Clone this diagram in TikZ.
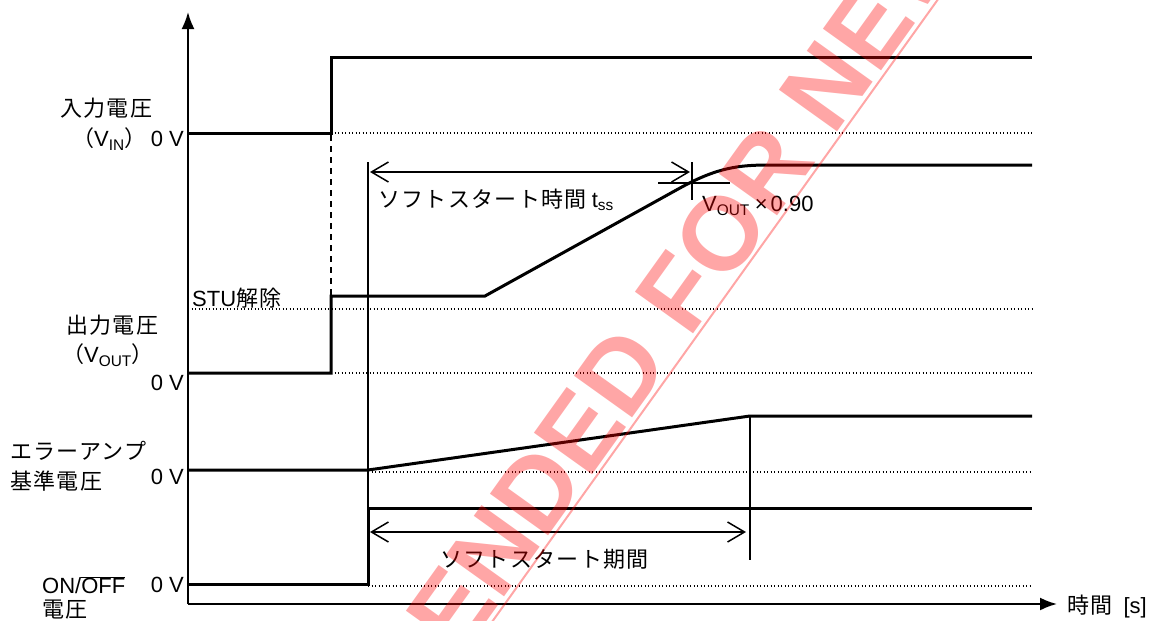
\documentclass[tikz,border=0pt]{standalone}
\usepackage{fontspec}
\setmainfont{Liberation Sans}
\newfontfamily\jp{Noto Sans CJK JP}[LetterSpace=6]
\usetikzlibrary{arrows.meta}
\tikzset{
  tx/.style={inner sep=0pt, font=\fontsize{22}{26}\selectfont},
  sig/.style={line width=3pt, line join=miter},
  axis/.style={line width=2pt, -{Latex[length=17pt,width=13pt]}},
  thinl/.style={line width=1.3pt},
  dotl/.style={line width=1.2pt, dash pattern=on 1.3pt off 2.2pt},
  dashl/.style={line width=1.3pt, dash pattern=on 6pt off 5pt},
  dim/.style={line width=1.5pt, {Straight Barb[length=17pt,width=20pt,line width=1.5pt]}-{Straight Barb[length=17pt,width=20pt,line width=1.5pt]}},
  wm/.style={inner sep=0pt, text=red, text opacity=0.35, font=\fontsize{104}{104}\selectfont\bfseries}
}
\begin{document}
\begin{tikzpicture}[x=1pt,y=-1pt]
\useasboundingbox (0,0) rectangle (1160,621);
% axes
\coordinate (O) at (188,604);
\coordinate (Ytop) at (188,12);
\coordinate (Xend) at (1057,604);
\draw[axis] (O) -- (Ytop);
\draw[axis] (O) -- (Xend);
\node[tx,anchor=west] (tlab) at (1067,607) {{\jp 時間}\hspace{11pt}[s]};
% dotted reference lines
\draw[dotl] (331,133) -- (1032,133);
\draw[dotl] (188,309) -- (1032,309);
\draw[dotl] (331,373) -- (1032,373);
\draw[dotl] (368,472) -- (1032,472);
\draw[dotl] (368,586) -- (1032,586);
% input voltage
\draw[sig] (188,133) -- (331,133) -- (331,57) -- (1032,57);
\draw[dashl] (331,135) -- (331,296);
% output voltage
\draw[sig] (188,373) -- (331,373) -- (331,296) -- (485,296) -- (680,188)
  .. controls (718,167) and (740,165) .. (770,165) -- (1032,165);
% error amp reference
\draw[sig] (188,470) -- (368,470) -- (750,416) -- (1032,416);
% ON/OFF
\draw[sig] (188,584) -- (368,584) -- (368,508) -- (1032,508);
% thin markers
\coordinate (m1t) at (368,162); \coordinate (m1b) at (368,508);
\draw[thinl] (m1t) -- (m1b);
\coordinate (m2t) at (692,162); \coordinate (m2b) at (692,200);
\draw[thinl] (m2t) -- (m2b);
\coordinate (h2l) at (658,183); \coordinate (h2r) at (730,183);
\draw[thinl] (h2l) -- (h2r);
\coordinate (m3t) at (750,416); \coordinate (m3b) at (750,560);
\draw[thinl] (m3t) -- (m3b);
% dimension arrows
\coordinate (a1l) at (370,172); \coordinate (a1r) at (690,172);
\draw[dim] (a1l) -- (a1r);
\coordinate (a2l) at (370,532); \coordinate (a2r) at (746,532);
\draw[dim] (a2l) -- (a2r);
% labels
\node[tx,anchor=west] (ltss) at (378,200) {{\jp ソフトスタート時間}\hspace{5pt}t\textsubscript{ss}};
\node[tx,anchor=west] (l90) at (702,206) {V\textsubscript{OUT}\hspace{5pt}×\hspace{3pt}0.90};
\node[tx,anchor=west] (lstu) at (192,298) {STU{\jp 解除}};
\node[tx,anchor=west] (lin) at (60,108) {\jp 入力電圧};
\node[tx,anchor=east] (lvin) at (184,139) {{\jp （}V\textsubscript{IN}{\jp ）}\hspace{4pt}0 V};
\node[tx,anchor=west] (lout) at (66,325) {\jp 出力電圧};
\node[tx,anchor=west] (lvout) at (62,355) {{\jp （}V\textsubscript{OUT}{\jp ）}};
\node[tx,anchor=east] (l0out) at (184,383) {0 V};
\node[tx,anchor=west] (lea) at (10,451) {\jp エラーアンプ};
\node[tx,anchor=west] (lref) at (10,481) {\jp 基準電圧};
\node[tx,anchor=east] (l0ea) at (184,477) {0 V};
\node[tx,anchor=west] (lon) at (42,585) {ON/$\overline{\mbox{OFF}}$};
\node[tx,anchor=east] (l0on) at (184,585) {0 V};
\node[tx,anchor=west] (lonv) at (42,610) {\jp 電圧};
\node[tx,anchor=west] (lssp) at (440,559) {\jp ソフトスタート期間};
% watermark
\begin{scope}
\clip (0,0) rectangle (1160,621);
\node[wm, rotate=54.4, anchor=base west] (wmk) at (40,1246) {NOT RECOMMENDED FOR NEW DESIGN};
\coordinate (wl1) at (464,661); \coordinate (wl2) at (959,-30);
\draw[red, opacity=0.35, line width=2pt] (wl1) -- (wl2);
\end{scope}
\end{tikzpicture}
\end{document}
